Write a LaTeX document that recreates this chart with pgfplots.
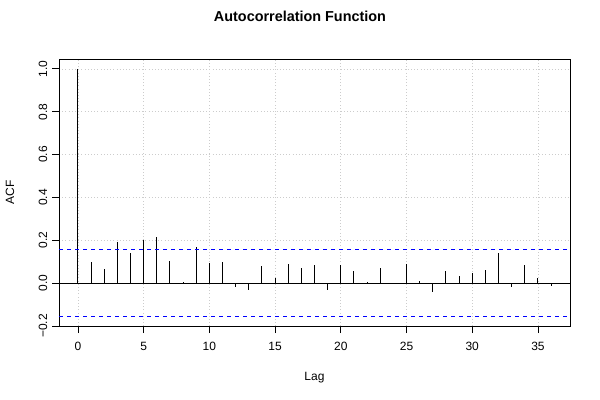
\documentclass[border=0pt]{standalone}
\usepackage{fontspec}
\setmainfont{Liberation Sans}
\usepackage{pgfplots}
\pgfplotsset{compat=1.18}
\definecolor{rblue}{RGB}{0,0,255}
\begin{document}
\begin{tikzpicture}
% page: 600 x 400 px, 1 px = 0.75 pt
\useasboundingbox (0pt,0pt) rectangle (450pt,300pt);
\begin{axis}[
    at={(44.25pt,55.5pt)}, anchor=south west,
    scale only axis,
    width=383.25pt, height=200.25pt,
    xmin=-1.44, xmax=37.44,
    ymin=-0.2, ymax=1.046,
    xtick={0,5,...,35},
    ytick={-0.2,0,0.2,0.4,0.6,0.8,1.0},
    yticklabels={−0.2,0.0,0.2,0.4,0.6,0.8,1.0},
    tick align=outside,
    major tick length=5.25pt,
    xtick pos=bottom, ytick pos=left,
    tick style={black, line width=0.6pt},
    axis line style={black, line width=0.6pt},
    grid=major,
    major grid style={lightgray!80, dotted, line width=0.5pt},
    font=\fontsize{9}{10}\selectfont,
    /pgf/number format/assume math mode=true,
    xticklabel style={yshift=-3.5pt, font=\fontsize{9}{10}\selectfont},
    yticklabel style={rotate=90, anchor=south, font=\fontsize{9}{10}\selectfont},
    title={Autocorrelation Function},
    title style={at={(axis description cs:0.4716,1.131)}, anchor=center,
                 font=\bfseries\fontsize{10.8}{12}\selectfont},
    xlabel={Lag},
    xlabel style={at={(axis description cs:0.5,-0.1948)}, anchor=center},
    ylabel={ACF},
    ylabel style={at={(axis description cs:-0.0959,0.5)}, anchor=center},
    clip=false,
]
\addplot[ycomb, black, line width=0.7pt, no marks] coordinates {
(0,1.0)(1,0.099)(2,0.065)(3,0.193)(4,0.142)(5,0.202)(6,0.216)(7,0.104)
(8,0.006)(9,0.168)(10,0.093)(11,0.099)(12,-0.016)(13,-0.034)(14,0.078)
(15,0.025)(16,0.09)(17,0.071)(18,0.083)(19,-0.034)(20,0.086)(21,0.058)
(22,0.006)(23,0.07)(24,0.002)(25,0.09)(26,0.011)(27,-0.042)(28,0.058)
(29,0.034)(30,0.048)(31,0.062)(32,0.142)(33,-0.02)(34,0.084)(35,0.023)
(36,-0.011)
};
\addplot[draw=rblue, dash pattern=on 3pt off 3pt, line width=0.75pt, unbounded coords=jump]
  coordinates {(-1.44,0.1555)(37.44,0.1555)(0,nan)(-1.44,-0.1555)(37.44,-0.1555)};
\addplot[draw=black, line width=0.6pt] coordinates {(-1.44,0)(37.44,0)};
\end{axis}
\end{tikzpicture}
\end{document}
